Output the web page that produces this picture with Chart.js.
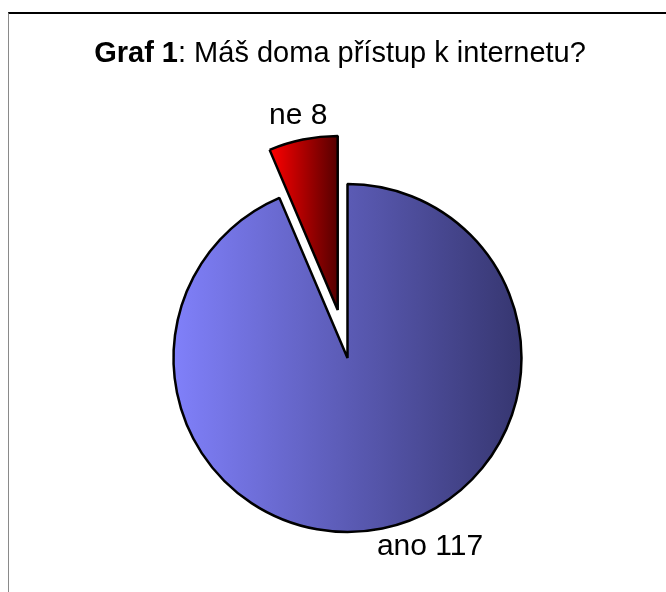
<!DOCTYPE html>
<html>
<head>
<meta charset="utf-8">
<title>Graf 1</title>
<script src="https://cdn.jsdelivr.net/npm/chart.js@4.4.1/dist/chart.umd.min.js"></script>
<style>
  body { margin: 0; background: #fff; overflow: hidden; }
  #ramecek { position: absolute; left: 8px; right: 0; top: 12px; bottom: 0; border-top: 2px solid #000; border-left: 1px solid #8a8a8a; }
  #obal { position: absolute; left: 0; top: 0; width: 666px; height: 592px; }
  #nadpis { position: absolute; left: 340px; top: 38px; transform: translateX(-50%); white-space: nowrap;
            font-family: "Liberation Sans", Arial, sans-serif; font-size: 29px; line-height: 29px; color: #000; }
</style>
</head>
<body>
<div id="ramecek"></div>
<div id="obal"><canvas id="graf"></canvas></div>
<div id="nadpis"><b>Graf 1</b>: Máš doma přístup k internetu?</div>
<script>
const odpovedi = ['ano', 'ne']
const pocty = [117, 8]
const vysunuti = [0, 49] //o kolik px je vysec vysunuta od stredu

const polomer = 174

//barvy prechodu zleva doprava pro kazdou vysec
const barvyZleva = ['#8080fa', '#ff0000']
const barvyZprava = ['#363670', '#560000']

function prechod(context) {
    const chart = context.chart
    const area = chart.chartArea
    if (!area) return barvyZleva[context.dataIndex]
    const i = context.dataIndex
    const cx = (area.left + area.right) / 2

    const celkem = pocty.reduce((a, b) => a + b, 0)
    let pred = 0
    for (let j = 0; j < i; j++) pred = pred + pocty[j]
    const a0 = -Math.PI / 2 + 2 * Math.PI * pred / celkem
    const a1 = a0 + 2 * Math.PI * pocty[i] / celkem
    const stred = (a0 + a1) / 2
    const ox = cx + Math.cos(stred) * vysunuti[i]

    let x0, x1
    if (a1 - a0 > Math.PI) {
        x0 = ox - polomer
        x1 = ox + polomer
    } else {
        const xs = [ox, ox + Math.cos(a0) * polomer, ox + Math.cos(a1) * polomer]
        x0 = Math.min(...xs)
        x1 = Math.max(...xs)
    }
    const g = chart.ctx.createLinearGradient(x0, 0, x1, 0)
    g.addColorStop(0, barvyZleva[i])
    g.addColorStop(1, barvyZprava[i])
    return g
}

//posune stred vysece ven (offset v chart.js meni i polomer, to nechceme)
const vysunout = {
    id: 'vysunout',
    afterDatasetsUpdate(chart) {
        const meta = chart.getDatasetMeta(0)
        meta.data.forEach((arc, i) => {
            if (!vysunuti[i]) return
            const uhel = (arc.startAngle + arc.endAngle) / 2
            arc.x = arc.x + Math.cos(uhel) * vysunuti[i]
            arc.y = arc.y + Math.sin(uhel) * vysunuti[i]
        })
    }
}

//popisky u vysecí
const popisky = {
    id: 'popisky',
    afterDatasetsDraw(chart, args, opts) {
        const ctx = chart.ctx
        const meta = chart.getDatasetMeta(0)
        ctx.save()
        ctx.font = '30px "Liberation Sans", Arial, sans-serif'
        ctx.fillStyle = '#000'
        ctx.textAlign = 'center'
        ctx.textBaseline = 'middle'
        meta.data.forEach((arc, i) => {
            const p = arc.getProps(['x', 'y', 'startAngle', 'endAngle', 'outerRadius'], true)
            const uhel = (p.startAngle + p.endAngle) / 2
            const vzd = p.outerRadius + opts.odstup
            const x = p.x + Math.cos(uhel) * vzd + opts.posunX[i]
            const y = p.y + Math.sin(uhel) * vzd + opts.posunY[i]
            ctx.fillText(odpovedi[i] + ' ' + pocty[i], x, y)
        })
        ctx.restore()
    }
}

new Chart(document.getElementById('graf'), {
    type: 'pie',
    data: {
        labels: odpovedi,
        datasets: [{
            data: pocty,
            backgroundColor: prechod,
            borderColor: '#000',
            borderWidth: 2.5,
            radius: polomer
        }]
    },
    options: {
        responsive: true,
        maintainAspectRatio: false,
        animation: false,
        events: [],
        layout: { padding: { left: 29, right: 0, top: 124, bottom: 0 } },
        plugins: {
            legend: { display: false },
            tooltip: { enabled: false },
            popisky: { odstup: 24, posunX: [43, 0], posunY: [-5, 0] }
        }
    },
    plugins: [vysunout, popisky]
})
</script>
</body>
</html>
